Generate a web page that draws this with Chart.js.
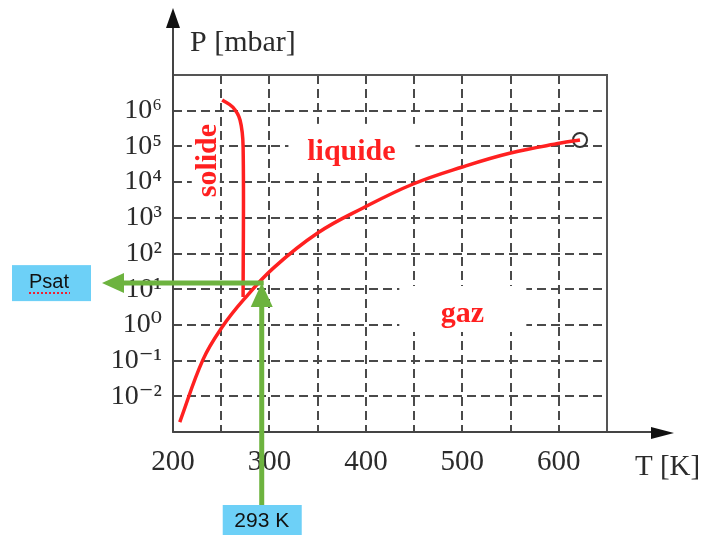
<!DOCTYPE html>
<html>
<head>
<meta charset="utf-8">
<script src="https://cdn.jsdelivr.net/npm/chart.js@4"></script>
<style>
  body { margin: 0; background: #fff; }
  canvas { display: block; }
</style>
</head>
<body>
<canvas id="diagramme" width="704" height="535"></canvas>
<script>
// courbe de vaporisation / sublimation (T en K, P en mbar)
const vapeurT = [207, 231, 251, 273, 304, 350, 397, 449, 500, 550, 602, 622];
const vapeurP = [1.9e-3, 0.105, 0.87, 5.0, 39, 375, 1880, 8850, 26500, 65300, 124000, 151000];

// courbe de fusion
const fusionT = [251, 262, 269.5, 272.7, 272.7];
const fusionP = [2e6, 1.26e6, 5.5e5, 9.5e4, 6.0];

// point critique
const critiqueT = [622];
const critiqueP = [151000];

// lecture sur le graphe
const lectureT = 292;
const lectureP = 14.8;

// graduations
const grilleT = [200, 250, 300, 350, 400, 450, 500, 550, 600];
const etiquettesT = [200, 300, 400, 500, 600];
const decadesP = [-2, -1, 0, 1, 2, 3, 4, 5, 6];

// zones
const zones = [
  { nom: 'solide', T: 234, P: 4e4, vertical: true },
  { nom: 'liquide', T: 385, P: 8e4 },
  { nom: 'gaz', T: 500, P: 2.3 }
];

const rouge = '#ff2020';
const vert = '#6db33f';
const bleu = '#6dd0f7';
const grisGrille = '#4a4a4a';
const serif = '"Liberation Serif", "DejaVu Serif", serif';
const sans = '"Liberation Sans", Arial, sans-serif';

const exposants = { '-': '⁻', '0': '⁰', '1': '¹', '2': '²', '3': '³', '4': '⁴', '5': '⁵', '6': '⁶', '7': '⁷', '8': '⁸', '9': '⁹' };
function puissance(v) {
  const e = String(Math.round(Math.log10(v)));
  return '10' + e.split('').map(c => exposants[c]).join('');
}

function fleche(ctx, x, y, dir, long, demi) {
  // pointe en (x, y), dir = 'haut' | 'droite' | 'gauche'
  ctx.beginPath();
  ctx.moveTo(x, y);
  if (dir === 'haut') { ctx.lineTo(x - demi, y + long); ctx.lineTo(x + demi, y + long); }
  if (dir === 'droite') { ctx.lineTo(x - long, y - demi); ctx.lineTo(x - long, y + demi); }
  if (dir === 'gauche') { ctx.lineTo(x + long, y - demi); ctx.lineTo(x + long, y + demi); }
  ctx.closePath();
  ctx.fill();
}

const decor = {
  id: 'decor',
  beforeDatasetsDraw(chart) {
    const { ctx, chartArea: a, scales: { x, y } } = chart;
    ctx.save();
    // cadre
    ctx.strokeStyle = '#555';
    ctx.lineWidth = 2;
    ctx.strokeRect(a.left, a.top, a.right - a.left, a.bottom - a.top);

    // noms des zones, sur fond blanc
    ctx.font = 'bold 30px ' + serif;
    ctx.textAlign = 'center';
    ctx.textBaseline = 'middle';
    zones.forEach(z => {
      const px = x.getPixelForValue(z.T);
      const py = y.getPixelForValue(z.P);
      const w = ctx.measureText(z.nom).width;
      ctx.save();
      ctx.translate(px, py);
      if (z.vertical) ctx.rotate(-Math.PI / 2);
      ctx.fillStyle = '#fff';
      if (z.vertical) ctx.fillRect(-w / 2 - 4, -14, w + 8, 28);
      else ctx.fillRect(-63, -26, 127, 46);
      ctx.fillStyle = rouge;
      ctx.fillText(z.nom, 0, 2);
      ctx.restore();
    });
    ctx.restore();
  },
  afterDraw(chart) {
    const { ctx, chartArea: a, scales: { x, y } } = chart;
    ctx.save();
    // axes avec fleches
    ctx.strokeStyle = '#444';
    ctx.fillStyle = '#111';
    ctx.lineWidth = 2;
    ctx.beginPath();
    ctx.moveTo(a.left, a.bottom);
    ctx.lineTo(a.left, 20);
    ctx.moveTo(a.left, a.bottom);
    ctx.lineTo(660, a.bottom);
    ctx.stroke();
    fleche(ctx, a.left, 8, 'haut', 20, 7);
    fleche(ctx, 674, a.bottom + 1, 'droite', 23, 6);

    // titres des axes
    ctx.fillStyle = '#2b2b2b';
    ctx.font = '30px ' + serif;
    ctx.textBaseline = 'middle';
    ctx.textAlign = 'left';
    ctx.fillText('P [mbar]', 190, 43);
    ctx.font = '29px ' + serif;
    ctx.fillText('T [K]', 635, 467);

    // lecture de Psat a 293 K
    const px = x.getPixelForValue(lectureT);
    const py = y.getPixelForValue(lectureP);
    ctx.strokeStyle = vert;
    ctx.fillStyle = vert;
    ctx.lineWidth = 5;
    ctx.beginPath();
    ctx.moveTo(px, 506);
    ctx.lineTo(px, py + 20);
    ctx.moveTo(px + 2, py);
    ctx.lineTo(120, py);
    ctx.stroke();
    fleche(ctx, px, py, 'haut', 24, 11);
    fleche(ctx, 102, py, 'gauche', 22, 10);

    // etiquettes bleues
    ctx.fillStyle = bleu;
    ctx.fillRect(12, py - 18, 79, 36);
    ctx.fillRect(px - 39, 505, 79, 32);
    ctx.fillStyle = '#111';
    ctx.textAlign = 'center';
    ctx.font = '20px ' + sans;
    ctx.fillText('Psat', 49, py - 1);
    ctx.font = '21px ' + sans;
    ctx.fillText('293 K', px, 521);
    // soulignement du correcteur
    ctx.strokeStyle = '#e23';
    ctx.lineWidth = 2;
    ctx.setLineDash([2, 2]);
    ctx.beginPath();
    ctx.moveTo(29, py + 10);
    ctx.lineTo(70, py + 10);
    ctx.stroke();
    ctx.restore();
  }
};

const points = (ts, ps) => ts.map((t, i) => ({ x: t, y: ps[i] }));

new Chart(document.getElementById('diagramme'), {
  type: 'line',
  data: {
    datasets: [
      { data: points(vapeurT, vapeurP), borderColor: rouge, borderWidth: 3.5, pointRadius: 0, tension: 0.4 },
      { data: points(fusionT, fusionP), borderColor: rouge, borderWidth: 3.5, pointRadius: 0, tension: 0.35 },
      { data: points(critiqueT, critiqueP), showLine: false, pointRadius: 7, pointBackgroundColor: '#fff', pointBorderColor: '#333', pointBorderWidth: 2 }
    ]
  },
  options: {
    responsive: false,
    animation: false,
    layout: { padding: { top: 75, right: 97, left: 0, bottom: 0 } },
    plugins: { legend: { display: false }, tooltip: { enabled: false } },
    scales: {
      x: {
        type: 'linear', min: 200, max: 650,
        afterBuildTicks: s => { s.ticks = grilleT.map(v => ({ value: v })); },
        afterFit: s => { s.height = 103; },
        ticks: {
          autoSkip: false, maxRotation: 0, padding: 13, color: '#2b2b2b',
          font: { family: serif, size: 29 },
          callback: v => etiquettesT.includes(v) ? String(v) : ''
        },
        grid: { color: grisGrille, lineWidth: 2, drawTicks: false },
        border: { display: false, dash: [9, 5] }
      },
      y: {
        type: 'logarithmic', min: 1e-3, max: 1e7,
        afterBuildTicks: s => { s.ticks = decadesP.map(e => ({ value: Math.pow(10, e) })); },
        afterFit: s => { s.width = 173; },
        ticks: {
          autoSkip: false, padding: 11, color: '#2b2b2b',
          font: { family: serif, size: 28 },
          callback: v => puissance(v)
        },
        grid: { color: grisGrille, lineWidth: 2, drawTicks: false },
        border: { display: false, dash: [9, 5] }
      }
    }
  },
  plugins: [decor]
});
</script>
</body>
</html>
